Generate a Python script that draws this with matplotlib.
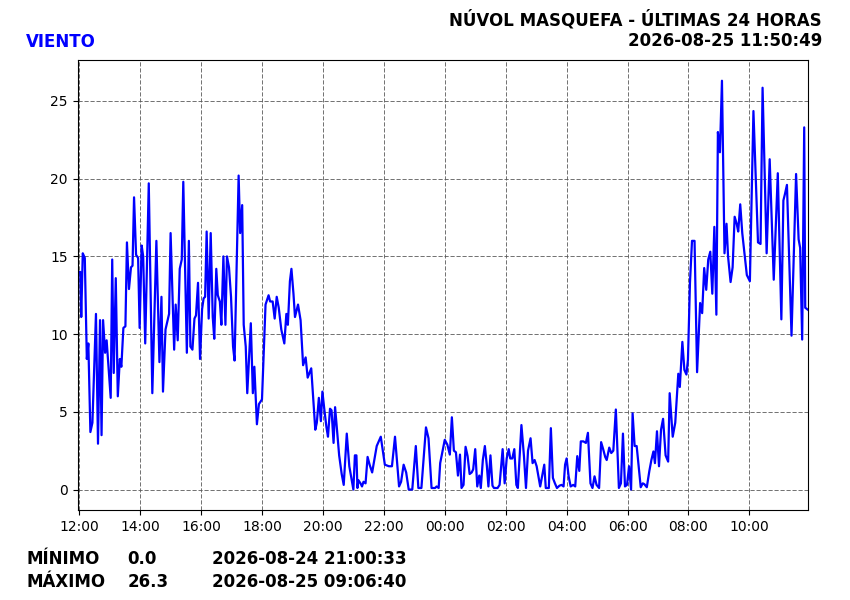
import datetime as dt
import matplotlib
matplotlib.use("Agg")
import matplotlib.pyplot as plt
import matplotlib.dates as mdates

START = dt.datetime(2026, 8, 24, 12, 0, 0)

# minutes after START and wind speed
minutes = [
    -3, 2, 4, 7, 11, 15, 18, 22, 26, 33, 37, 41, 44, 47, 51, 54, 62, 65, 68, 72,
    76, 80, 83, 87, 91, 94, 98, 102, 105, 108, 112, 116, 119, 123, 126, 130, 137, 144, 152, 158,
    162, 165, 170, 177, 180, 187, 190, 194, 198, 202, 205, 212, 216, 219, 223, 227, 230, 234, 238, 242,
    245, 248, 251, 255, 259, 263, 266, 270, 273, 277, 280, 284, 288, 291, 295, 299, 303, 306, 314, 317,
    321, 324, 328, 331, 338, 342, 345, 350, 354, 360, 367, 373, 376, 381, 385, 389, 393, 398, 404, 408,
    411, 415, 418, 422, 425, 431, 436, 441, 446, 450, 457, 465, 468, 472, 476, 479, 483, 487, 490, 494,
    497, 501, 504, 512, 517, 521, 527, 532, 540, 543, 546, 548, 550, 554, 557, 560, 564, 568, 572, 577,
    586, 594, 602, 610, 616, 622, 630, 634, 639, 644, 649, 656, 663, 668, 674, 683, 688, 694, 701, 704,
    708, 711, 720, 725, 730, 734, 738, 742, 746, 750, 753, 757, 761, 765, 769, 773, 776, 780, 784, 788,
    791, 795, 799, 803, 806, 810, 814, 817, 824, 828, 834, 838, 842, 846, 849, 853, 857, 861, 864, 871,
    876, 880, 884, 889, 893, 897, 901, 908, 916, 919, 925, 929, 933, 937, 941, 946, 950, 954, 957, 960,
    964, 968, 973, 977, 981, 985, 988, 993, 998, 1002, 1007, 1011, 1015, 1019, 1024, 1028, 1032, 1036, 1039, 1044,
    1048, 1052, 1057, 1063, 1067, 1071, 1075, 1079, 1083, 1087, 1090, 1094, 1098, 1106, 1110, 1113, 1118, 1123, 1127, 1131,
    1134, 1138, 1142, 1146, 1150, 1155, 1160, 1163, 1169, 1174, 1180, 1183, 1188, 1192, 1196, 1199, 1203, 1207, 1212, 1217,
    1223, 1227, 1231, 1235, 1239, 1243, 1247, 1251, 1255, 1258, 1262, 1266, 1271, 1275, 1278, 1283, 1287, 1291, 1295, 1298,
    1302, 1306, 1311, 1315, 1321, 1328, 1337, 1342, 1346, 1354, 1360, 1368, 1376, 1383, 1387, 1390, 1394, 1403, 1412, 1417,
    1420, 1424, 1428, 1430, 1436,
]
wind = [
    14.0, 14.0, 11.1, 15.2, 14.9, 8.4, 9.4, 3.7, 4.3, 11.3, 2.95, 10.9, 3.5, 10.9, 8.8, 9.6, 5.9, 14.8, 7.5, 13.6,
    6.0, 8.4, 7.9, 10.4, 10.5, 15.9, 12.9, 14.3, 14.4, 18.8, 15.1, 14.9, 10.4, 15.7, 15.0, 9.4, 19.7, 6.2, 16.0, 8.2,
    12.4, 6.3, 10.3, 11.3, 16.5, 9.0, 11.9, 9.6, 14.2, 14.8, 19.8, 8.8, 16.0, 9.2, 9.0, 11.0, 11.2, 13.3, 8.4, 11.6,
    12.3, 12.4, 16.6, 11.0, 16.5, 11.1, 9.7, 14.2, 12.5, 12.1, 10.6, 15.0, 10.6, 15.0, 14.3, 12.4, 9.2, 8.3, 20.2, 16.5,
    18.3, 10.6, 9.2, 6.2, 10.7, 6.2, 7.9, 4.2, 5.5, 5.8, 11.9, 12.5, 12.1, 12.1, 11.0, 12.4, 11.7, 10.3, 9.4, 11.3,
    10.6, 13.4, 14.2, 12.6, 11.1, 11.9, 10.9, 8.0, 8.5, 7.2, 7.8, 3.85, 4.3, 5.9, 4.4, 6.3, 5.1, 4.0, 3.4, 5.2,
    5.1, 3.0, 5.3, 2.2, 1.0, 0.3, 3.6, 1.5, 0.0, 2.2, 2.2, 0.1, 0.6, 0.4, 0.2, 0.5, 0.4, 2.1, 1.6, 1.1,
    2.8, 3.4, 1.6, 1.5, 1.5, 3.4, 0.2, 0.5, 1.6, 1.1, 0.0, 0.0, 2.8, 0.1, 0.1, 4.0, 3.3, 0.1, 0.1, 0.2,
    0.1, 1.7, 3.2, 2.9, 2.25, 4.65, 2.5, 2.4, 0.9, 2.25, 0.1, 0.3, 2.75, 2.15, 1.0, 1.1, 1.3, 2.6, 0.2, 0.9,
    0.1, 1.9, 2.8, 1.5, 0.2, 2.2, 0.25, 0.1, 0.1, 0.3, 2.6, 0.4, 2.0, 2.6, 2.0, 2.0, 2.6, 0.3, 0.1, 4.15,
    2.15, 0.1, 2.5, 3.3, 1.7, 1.9, 1.5, 0.2, 1.6, 0.1, 0.1, 3.95, 0.75, 0.4, 0.1, 0.25, 0.3, 0.2, 1.6, 2.0,
    0.85, 0.2, 0.3, 0.2, 2.15, 1.2, 3.1, 3.1, 3.0, 3.65, 0.4, 0.1, 0.85, 0.3, 0.1, 3.05, 2.6, 2.1, 1.9, 2.7,
    2.35, 2.5, 5.15, 0.1, 0.4, 3.6, 0.2, 0.3, 1.5, 0.0, 4.9, 2.8, 2.8, 0.15, 0.4, 0.35, 0.15, 1.2, 1.9, 2.45,
    1.7, 3.75, 1.5, 3.85, 4.55, 2.2, 1.8, 6.2, 3.4, 4.3, 7.45, 6.6, 9.5, 7.7, 7.4, 8.35, 13.3, 16.0, 16.0, 7.55,
    12.0, 11.35, 14.25, 12.85, 14.8, 15.3, 12.6, 16.9, 11.25, 23.0, 21.7, 26.3, 15.2, 17.1, 15.0, 13.35, 14.3, 17.55, 17.1, 16.6,
    18.35, 16.5, 15.0, 13.8, 13.4, 24.35, 15.9, 15.8, 25.85, 15.2, 21.25, 13.5, 20.35, 10.95, 18.6, 19.0, 19.6, 9.9, 20.3, 16.1,
    15.55, 9.65, 23.3, 11.7, 11.55,
]

title = "NÚVOL MASQUEFA - ÚLTIMAS 24 HORAS"
stamp = "2026-08-25 11:50:49"
variable = "VIENTO"
min_row = ("MÍNIMO", "0.0", "2026-08-24 21:00:33")
max_row = ("MÁXIMO", "26.3", "2026-08-25 09:06:40")

times = [START + dt.timedelta(minutes=m) for m in minutes]

fig = plt.figure(figsize=(8.5, 6), dpi=100)
ax = fig.add_axes([0.0914, 0.15, 0.8595, 0.7495])

ax.plot(times, wind, color="blue", linewidth=1.6)
ax.set_xlim(times[0], times[-1])
ax.margins(y=0.05)
ax.grid(True, color="0.35", linestyle=(0, (5, 2.2)), linewidth=0.6)
ax.xaxis.set_major_locator(mdates.HourLocator(byhour=range(0, 24, 2)))
ax.xaxis.set_major_formatter(mdates.DateFormatter("%H:%M"))

fig.text(0.967, 0.958, title, ha="right", va="baseline", fontsize=12, fontweight="bold")
fig.text(0.967, 0.923, stamp, ha="right", va="baseline", fontsize=12, fontweight="bold")
fig.text(0.0306, 0.921, variable, ha="left", va="baseline", fontsize=12, fontweight="bold", color="blue")

for row, yb in ((min_row, 0.06), (max_row, 0.0217)):
    for txt, xp in zip(row, (0.0306, 0.150, 0.2495)):
        fig.text(xp, yb, txt, ha="left", va="baseline", fontsize=12, fontweight="bold")

fig.savefig("out.png", dpi=100)
